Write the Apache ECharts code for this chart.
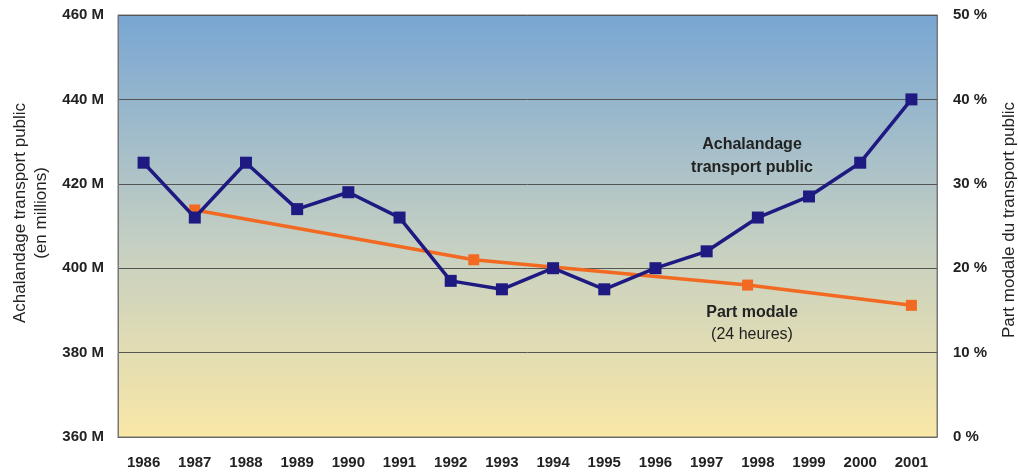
<!DOCTYPE html>
<html><head><meta charset="utf-8">
<script src="https://cdn.jsdelivr.net/npm/echarts@6/dist/echarts.min.js"></script>
<style>html,body{margin:0;padding:0;background:#fff}#c{width:1018px;height:474px}</style>
</head><body><div id="c"></div>
<script>
var years = ['1986','1987','1988','1989','1990','1991','1992','1993','1994','1995','1996','1997','1998','1999','2000','2001'];
var ridership = [425,412,425,414,418,412,397,395,400,395,400,404,412,417,425,440];
var modalYears = [1987,1992.45,1997.8,2001];
var modalShare = [26.9,21.0,18.0,15.6];
var leftTicks = {min:360,max:460,interval:20};
var rightTicks = {min:0,max:50,interval:10};

var modalData = modalYears.map(function(y,i){return [y,modalShare[i]];});
var font = '"Liberation Sans Narrow","Liberation Sans",Arial,sans-serif';
var nameFont = '17px "Liberation Sans",Arial,sans-serif';
var annFont = '"Liberation Sans",Arial,sans-serif';
var chart = echarts.init(document.getElementById('c'));
chart.setOption({
  animation:false,
  grid:{left:118,right:81,top:15,bottom:37,show:true,borderColor:'#777',borderWidth:1,
    outerBoundsMode:'none',containLabel:false,
    backgroundColor:new echarts.graphic.LinearGradient(0,0,0,1,[
      {offset:0,color:'#78a6d3'},{offset:0.55,color:'#c6d0c2'},{offset:1,color:'#f9e7a6'}])},
  xAxis:[{type:'category',data:years,boundaryGap:true,
    axisLine:{lineStyle:{color:'#666'}},
    axisTick:{inside:true,length:5,lineStyle:{color:'#555'}},
    axisLabel:{margin:18,color:'#222',fontSize:15,fontFamily:font,fontWeight:'bold'}},
   {type:'value',min:1985.5,max:2001.5,show:false}],
  yAxis:[{type:'value',min:leftTicks.min,max:leftTicks.max,interval:leftTicks.interval,
    axisLine:{show:true,lineStyle:{color:'#777'}},axisTick:{show:false},
    splitLine:{lineStyle:{color:'#555',width:1}},
    axisLabel:{formatter:'{value} M',margin:14,color:'#222',fontSize:15,fontFamily:font,fontWeight:'bold'}},
   {type:'value',min:rightTicks.min,max:rightTicks.max,interval:rightTicks.interval,position:'right',
    axisLine:{show:true,lineStyle:{color:'#777'}},axisTick:{show:false},splitLine:{show:false},
    axisLabel:{formatter:'{value} %',margin:16,color:'#222',fontSize:15,fontFamily:font,fontWeight:'bold'}}],
  series:[
   {type:'line',name:'Part modale',xAxisIndex:1,yAxisIndex:1,data:modalData,
    symbol:'rect',symbolSize:11,lineStyle:{color:'#f26a21',width:3.5},itemStyle:{color:'#f26a21'},z:2},
   {type:'line',name:'Achalandage',xAxisIndex:0,yAxisIndex:0,data:ridership,
    symbol:'rect',symbolSize:12,lineStyle:{color:'#1e1a82',width:3.5},itemStyle:{color:'#1e1a82'},z:3}
  ],
  graphic:[
   {type:'text',x:31,y:213,rotation:Math.PI/2,style:{text:'Achalandage transport public\n(en millions)',
     textAlign:'center',textVerticalAlign:'middle',font:nameFont,fill:'#222',lineHeight:21}},
   {type:'text',x:1009,y:220,rotation:Math.PI/2,style:{text:'Part modale du transport public',
     textAlign:'center',textVerticalAlign:'middle',font:nameFont,fill:'#222'}},
   {type:'text',x:752,y:145,style:{text:'Achalandage',textAlign:'center',textVerticalAlign:'middle',
     font:'bold 16px '+annFont,fill:'#222'}},
   {type:'text',x:752,y:168,style:{text:'transport public',textAlign:'center',textVerticalAlign:'middle',
     font:'bold 16px '+annFont,fill:'#222'}},
   {type:'text',x:752,y:313,style:{text:'Part modale',textAlign:'center',textVerticalAlign:'middle',
     font:'bold 16px '+annFont,fill:'#222'}},
   {type:'text',x:752,y:335,style:{text:'(24 heures)',textAlign:'center',textVerticalAlign:'middle',
     font:'16px '+annFont,fill:'#222'}}
  ]
});
</script></body></html>
